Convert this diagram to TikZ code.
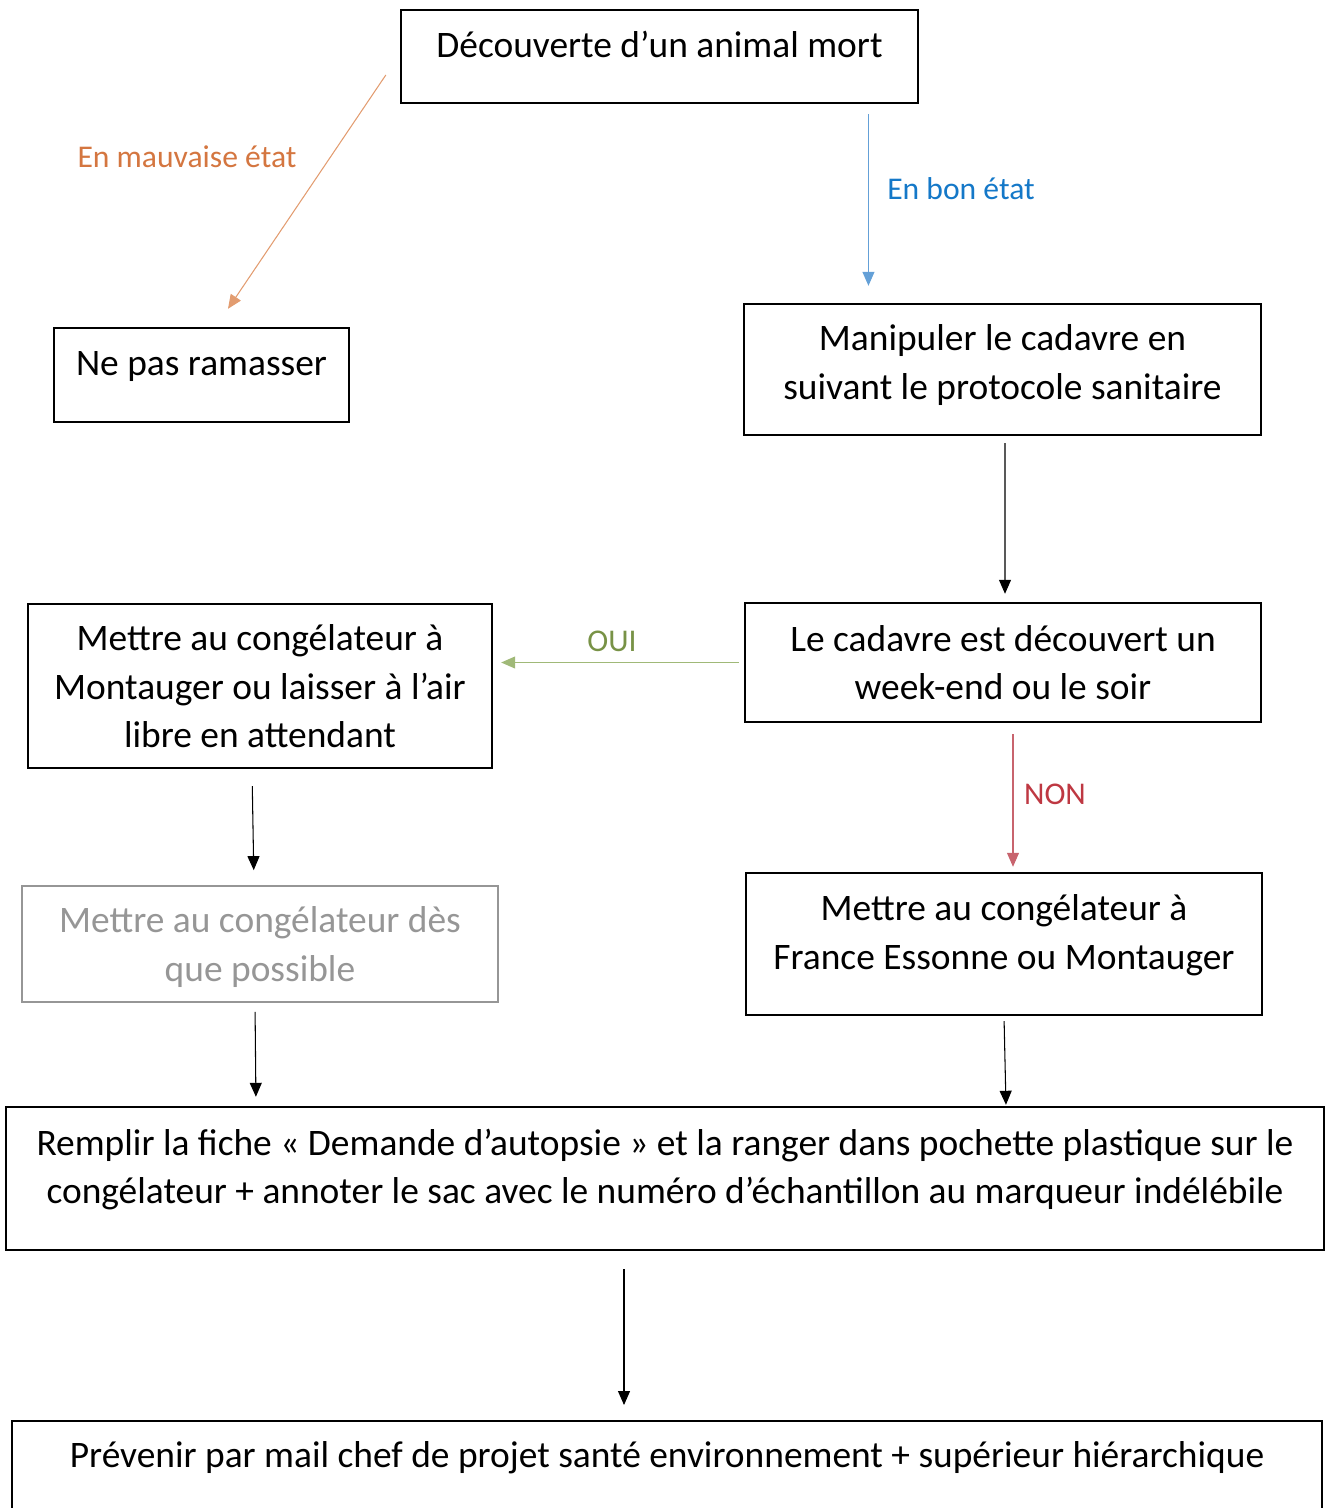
\documentclass[tikz,border=0pt]{standalone}
\usepackage{fontspec}
\setmainfont{Carlito}
\usetikzlibrary{arrows.meta}
\definecolor{orangeetat}{RGB}{212,118,64}
\definecolor{orangeligne}{RGB}{226,156,112}
\definecolor{bleuetat}{RGB}{20,120,200}
\definecolor{bleuligne}{RGB}{100,160,215}
\definecolor{vertoui}{RGB}{120,146,70}
\definecolor{vertligne}{RGB}{160,185,120}
\definecolor{rougenon}{RGB}{190,56,66}
\definecolor{rougeligne}{RGB}{200,100,110}
\definecolor{grisboite}{RGB}{150,150,150}
\begin{document}
\begin{tikzpicture}[x=0.02cm,y=-0.02cm,
  boite/.style={draw,line width=1.4pt,align=center,inner sep=0pt,
    font=\fontsize{21.3}{27.8}\selectfont,execute at end node=\strut},
  fleche/.style={-{Triangle[length=0.28cm,width=0.24cm]},line width=0.6pt},
  etiquette/.style={font=\fontsize{18}{22}\selectfont}]
 \useasboundingbox (0,0) rectangle (1327,1508);
 % boites
 \node[boite,text depth=0.65cm,minimum width=10.34cm,minimum height=1.86cm] (decouverte) at (659.5,56.5) {Découverte d’un animal mort};
 \node[boite,text depth=0.65cm,minimum width=5.9cm,minimum height=1.88cm] (ramasser) at (201.5,375) {Ne pas ramasser};
 \node[boite,minimum width=10.34cm,minimum height=2.62cm] (manipuler) at (1002.5,369.5) {Manipuler le cadavre en\\suivant le protocole sanitaire};
 \node[boite,text depth=0cm,minimum width=10.32cm,minimum height=2.38cm] (weekend) at (1003,662.5) {Le cadavre est découvert un\\week-end ou le soir};
 \node[boite,text depth=0cm,minimum width=9.28cm,minimum height=3.28cm] (montauger) at (260,686) {Mettre au congélateur à\\Montauger ou laisser à l’air\\libre en attendant};
 \node[boite,text depth=0cm,draw=grisboite,text=grisboite,line width=1pt,minimum width=9.52cm,minimum height=2.32cm] (despossible) at (260,944) {Mettre au congélateur dès\\que possible};
 \node[boite,text depth=0.49cm,minimum width=10.32cm,minimum height=2.84cm] (essonne) at (1004,944) {Mettre au congélateur à\\France Essonne ou Montauger};
 \node[boite,text depth=0.49cm,minimum width=26.36cm,minimum height=2.86cm] (remplir) at (665,1178.5) {Remplir la fiche « Demande d’autopsie » et la ranger dans pochette plastique sur le\\congélateur + annoter le sac avec le numéro d’échantillon au marqueur indélébile};
 \node[boite,minimum width=26.2cm,minimum height=3cm,anchor=north] (prevenir) at (667,1420) {};
 \node[anchor=base,font=\fontsize{21.3}{27.8}\selectfont] (prevenirtexte) at (667,1467) {Prévenir par mail chef de projet santé environnement + supérieur hiérarchique};
 % fleches
 \draw[fleche,orangeligne] ([xshift=-0.28cm,yshift=-0.37cm]decouverte.west) -- ([xshift=0.53cm,yshift=0.36cm]ramasser.north);
 \draw[fleche,bleuligne,shorten <=0.2cm,shorten >=0.34cm] ([xshift=4.18cm]decouverte.south) -- ([xshift=4.18cm]decouverte.south |- manipuler.north);
 \draw[fleche,shorten <=0.14cm,shorten >=0.16cm] ([xshift=0.05cm]manipuler.south) -- ([xshift=0.04cm]weekend.north);
 \draw[fleche,vertligne,shorten >=0.16cm] ([xshift=-0.1cm]weekend.west) -- (montauger.east |- weekend.west);
 \draw[fleche,rougeligne,shorten <=0.22cm,shorten >=0.1cm] ([xshift=0.2cm]weekend.south) -- ([xshift=0.2cm]weekend.south |- essonne.north);
 \draw[fleche,shorten <=0.34cm,shorten >=0.3cm] ([xshift=-0.16cm]montauger.south) -- ([xshift=-0.12cm]despossible.north);
 \draw[fleche,shorten <=0.18cm,shorten >=0.18cm] ([xshift=-0.1cm]despossible.south) -- ([xshift=-0.08cm]despossible.south |- remplir.north);
 \draw[fleche,shorten <=0.1cm,shorten >=0.02cm] (essonne.south) -- ([xshift=0.04cm]essonne.south |- remplir.north);
 \draw[fleche,shorten <=0.36cm,shorten >=0.3cm] ([xshift=-0.82cm]remplir.south) -- ([xshift=-0.82cm]remplir.south |- prevenir.north);
 % etiquettes
 \node[etiquette,text=orangeetat] (mauvais) at (187,157) {En mauvaise état};
 \node[etiquette,text=bleuetat] (bon) at (961,189) {En bon état};
 \node[etiquette,text=vertoui] (oui) at (612,641) {OUI};
 \node[etiquette,text=rougenon] (non) at (1055,794) {NON};
\end{tikzpicture}
\end{document}
